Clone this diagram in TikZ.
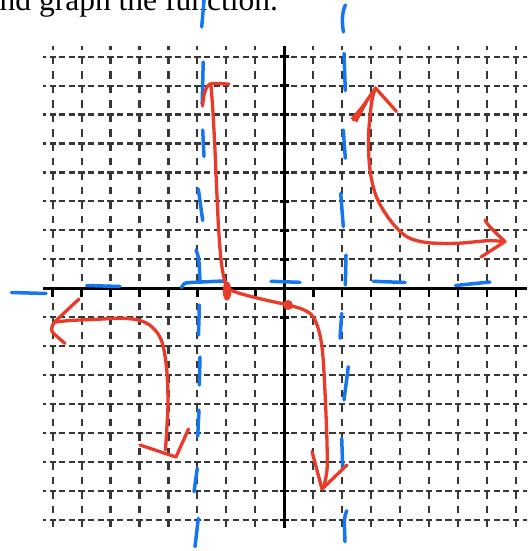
\documentclass[tikz,border=0pt]{standalone}
\usepackage{fontspec}
\setmainfont{Liberation Serif}
\definecolor{gridgray}{RGB}{55,55,55}
\definecolor{penblue}{RGB}{20,118,240}
\definecolor{penred}{RGB}{234,58,40}
\begin{document}
\begin{tikzpicture}[x=1pt,y=-1pt,
  gridline/.style={draw=gridgray,line width=2.1pt},
  axisline/.style={draw=black,line width=3.3pt},
  axistick/.style={draw=black,line width=2.5pt},
  bluepen/.style={draw=penblue,line width=3.5pt,line cap=round,line join=round},
  redpen/.style={draw=penred,line width=3.3pt,line cap=round,line join=round}]
\useasboundingbox (0,0) rectangle (532,551);
% grid
\begin{scope}
\clip (43,46.5) rectangle (527,528);
\foreach \k in {-8,...,8} {
  \pgfmathsetmacro{\gx}{284.3+28.96*\k}
  \pgfmathsetmacro{\gy}{288.3+28.96*\k}
  \draw[gridline,dash pattern=on 7.5pt off 6.98pt] (\gx,42.14) -- (\gx,535);
  \draw[gridline,dash pattern=on 6.2pt off 3.453pt] (39.87,\gy) -- (535,\gy);
}
\end{scope}
% axes
\draw[axisline] (43,288.3) -- (527,288.3);
\draw[axisline] (284.3,46.5) -- (284.3,528);
\foreach \k in {-8,...,8} {
  \pgfmathsetmacro{\gx}{284.3+28.96*\k}
  \pgfmathsetmacro{\gy}{288.3+28.96*\k}
  \draw[axistick] (279.5,\gy) -- (289,\gy);
  \draw[axistick] (\gx,288.3) -- (\gx,296.5);
}
% title text (cut off at the top edge, as in the reference)
\node[anchor=base west,inner sep=0pt,font=\fontsize{31.5}{36}\selectfont] (title) at (-0.5,10.5) {nd graph the function.};
% blue asymptotes: left vertical
\draw[bluepen] (204.2,-2) -- (201.7,27);
\draw[bluepen] (203.2,62) -- (202.2,104);
\draw[bluepen] (202.7,130) -- (204,156.5);
\draw[bluepen] (198.3,189) -- (202.7,220.5);
\draw[bluepen] (196,250) .. controls (199,258) .. (200,281.5);
\draw[bluepen] (181.5,287.5) .. controls (184,283) .. (191,282.5) -- (223.3,281);
\draw[bluepen] (199.3,305) -- (198.5,335);
\draw[bluepen] (200,357) -- (199.3,385);
\draw[bluepen] (199,410) -- (197.7,436.5);
\draw[bluepen] (197.3,468.3) -- (194,491.7);
\draw[bluepen] (198.3,518.3) -- (195,546.7);
% right vertical
\draw[bluepen] (345.5,5) .. controls (341.5,12) and (342,25) .. (343.5,32);
\draw[bluepen] (344,53.3) -- (345.3,90.7);
\draw[bluepen] (343.3,130) -- (345.3,158.3);
\draw[bluepen] (340.7,193.3) -- (343.3,226.7);
\draw[bluepen] (346,255) -- (345.3,285);
\draw[bluepen] (341.7,313.3) -- (340,338.3);
\draw[bluepen] (348.3,366.7) -- (344,400);
\draw[bluepen] (341.7,438.3) -- (342.7,466.7);
\draw[bluepen] (346.7,510.7) .. controls (344,518) .. (345,541.7);
% horizontal
\draw[bluepen] (11.5,292.5) -- (46,293.5);
\draw[bluepen] (86.7,285.5) -- (120,286.5);
\draw[bluepen] (271,281.3) -- (300,282.3);
\draw[bluepen] (373.3,281.3) -- (405,282.5);
\draw[bluepen] (455.5,285.5) -- (490,282);
% red: middle branch
\draw[redpen] plot[smooth,tension=0.55] coordinates {(211,86) (212.5,105) (214.5,140) (216.5,185) (218.5,227) (221,260) (224,278) (227.5,288) (237,292.5) (253,297) (270,301) (288,305) (303,309.5) (313,316.5) (319.5,333) (323,357) (325.5,403) (327,443) (327,470) (323.5,487.5)};
\draw[redpen] (202.5,106) -- (204,95) .. controls (205.5,88) and (208,84) .. (212,83.5) -- (229,84);
\draw[redpen] (312,451.5) -- (322,489) -- (347,465);
\fill[penred] (227,291) ellipse (4.3pt and 9.5pt);
\fill[penred] (288,305) circle (5pt);
% red: upper right branch
\draw[redpen] plot[smooth,tension=0.55] coordinates {(375.5,88) (371.5,103) (368.5,137) (370,170) (376.5,197) (390,220) (406.5,236.5) (426.5,242.5) (456.5,243.3) (488,240.7) (503,241.5)};
\draw[redpen] (353.5,120) -- (375.5,88) -- (396.5,111.5);
\fill[penred] (350.5,118.5) -- (357,122.5) -- (374,91) -- cycle;
\draw[redpen] (485,220) .. controls (488,226) and (496,233) .. (505,241.5) -- (481,257);
% red: lower left branch
\draw[redpen] plot[smooth,tension=0.55] coordinates {(56,322) (70,320.5) (96.5,319.3) (123,318.3) (140,320.5) (152,327) (161.5,340.5) (166.5,367) (168,400) (167,425) (165.5,450)};
\draw[redpen] (79,299) -- (55,321.5) .. controls (51,326) and (51,331) .. (53,333) -- (65,343.5);
\draw[redpen] (140,445) -- (176,457) -- (188.5,429);
\end{tikzpicture}
\end{document}
